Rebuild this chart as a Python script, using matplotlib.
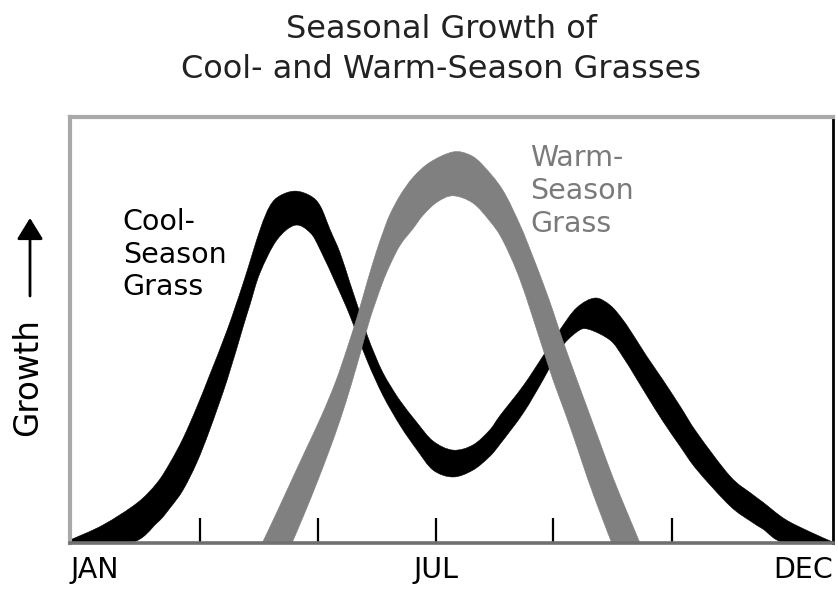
import numpy as np
import matplotlib.pyplot as plt
from matplotlib.path import Path
from matplotlib.patches import PathPatch

# x: position along the year (0 = JAN, 100 = DEC), y: relative growth (0-100)
# each grass is a band between an outer and an inner edge
cool_top_x = [0.0, 4.3, 8.8, 11.4, 13.1, 14.8, 16.6, 18.3, 20.6, 22.7, 24.9, 26.2, 27.5, 29.5,
              31.5, 32.8, 34.1, 35.4, 36.7, 38.0, 38.9, 40.0, 41.0, 42.1, 43.3, 45.5, 47.6,
              50.2, 52.8, 55.0, 56.4, 59.4, 62.0, 64.2, 66.4, 68.8, 70.8, 72.5, 74.0, 75.6,
              77.7, 80.0, 82.2, 86.5, 89.3, 90.8, 93.7, 97.0, 100.0]
cool_top_y = [0.7, 4.2, 9.4, 14.1, 18.8, 24.5, 31.8, 39.4, 50.0, 61.0, 73.5, 79.1, 81.5, 82.6,
              81.5, 79.1, 73.5, 68.1, 61.0, 54.0, 49.0, 44.0, 40.0, 36.6, 33.3, 28.2, 23.9,
              21.8, 23.0, 26.5, 30.0, 36.9, 43.9, 50.0, 55.2, 57.5, 55.8, 52.3, 48.3, 43.8,
              38.3, 32.0, 25.8, 15.7, 11.6, 9.6, 5.6, 2.6, 0.2]
cool_bot_x = [0.0, 7.9, 11.4, 13.1, 14.8, 16.6, 18.3, 20.6, 22.7, 23.6, 24.9, 27.1, 29.5, 31.5,
              32.8, 35.0, 36.7, 38.9, 41.0, 43.3, 45.5, 47.6, 50.2, 52.8, 55.0, 56.4, 59.4,
              62.0, 64.2, 66.4, 67.9, 70.8, 72.5, 74.0, 75.6, 77.7, 80.0, 82.2, 86.5, 89.3,
              90.8, 93.7, 100.0]
cool_bot_y = [0.0, 0.0, 4.7, 8.2, 12.4, 18.8, 26.5, 38.3, 50.8, 56.0, 63.4, 71.1, 74.6, 72.8,
              68.8, 60.3, 53.3, 43.0, 34.7, 27.5, 21.8, 17.1, 15.5, 17.1, 20.3, 23.3, 30.5,
              38.3, 45.5, 49.5, 50.2, 47.6, 43.6, 39.3, 34.6, 28.6, 22.6, 17.1, 8.7, 5.0,
              3.3, 0.0, 0.0]

warm_top_x = [25.2, 27.0, 28.8, 30.9, 33.0, 34.8, 36.3, 37.7, 38.9, 40.1, 41.0, 41.9, 43.3,
              45.0, 47.2, 50.2, 52.4, 54.1, 56.7, 59.0, 60.5, 62.0, 63.3, 64.5, 66.2, 67.9,
              69.5, 71.2, 73.0, 74.7]
warm_top_y = [0.0, 6.8, 13.8, 21.9, 30.0, 37.8, 45.6, 53.5, 61.0, 68.1, 72.8, 77.0, 81.7,
              85.9, 89.4, 91.8, 91.1, 88.7, 82.9, 74.6, 68.0, 61.0, 54.5, 48.0, 39.5, 31.2,
              23.4, 15.2, 7.3, 0.0]
warm_bot_x = [29.1, 30.8, 32.4, 34.0, 35.5, 36.9, 38.2, 39.3, 40.9, 42.0, 43.3, 45.0, 46.3,
              48.1, 50.2, 52.8, 55.0, 56.7, 59.0, 61.9, 63.3, 64.9, 66.4, 67.9, 69.5, 71.0]
warm_bot_y = [0.0, 7.2, 14.3, 21.8, 29.4, 37.4, 45.5, 52.5, 60.8, 65.5, 70.0, 73.9, 77.0,
              80.0, 81.5, 79.8, 75.6, 71.1, 61.7, 46.0, 38.3, 30.5, 22.8, 14.8, 7.0, 0.0]

tick_pos = [17.0, 32.5, 48.0, 63.3, 78.9]
month_pos = [0, 48.0, 100]
month_labels = ["JAN", "JUL", "DEC"]


def smooth_segments(xs, ys):
    # Catmull-Rom through the read points, written as cubic Bezier pieces
    p = np.column_stack([xs, ys])
    ext = np.vstack([p[0], p, p[-1]])
    verts, codes = [], []
    for i in range(1, len(ext) - 2):
        p0, p1, p2, p3 = ext[i - 1], ext[i], ext[i + 1], ext[i + 2]
        verts += [p1 + (p2 - p0) / 6, p2 - (p3 - p1) / 6, p2]
        codes += [Path.CURVE4] * 3
    return p[0], verts, codes


def band(ax, tx, ty, bx, by, color, z):
    start, v1, c1 = smooth_segments(tx, ty)
    bstart, v2, c2 = smooth_segments(bx[::-1], by[::-1])
    verts = [start] + v1 + [bstart] + v2 + [start]
    codes = [Path.MOVETO] + c1 + [Path.LINETO] + c2 + [Path.CLOSEPOLY]
    ax.add_patch(PathPatch(Path(verts, codes), facecolor=color, edgecolor=color,
                           lw=0.4, zorder=z))


plt.rcParams["font.family"] = "DejaVu Sans"

fig = plt.figure(figsize=(8.38, 5.96), dpi=100)
ax = fig.add_axes([70 / 838, 53 / 596, 763 / 838, 426 / 596])

band(ax, cool_top_x, cool_top_y, cool_bot_x, cool_bot_y, "black", 2)
band(ax, warm_top_x, warm_top_y, warm_bot_x, warm_bot_y, "#808080", 3)

ax.text(6.9, 58.2, "Cool-\nSeason\nGrass", fontsize=20.5, color="black",
        ha="left", va="baseline", linespacing=1.2)
ax.text(60.3, 73.0, "Warm-\nSeason\nGrass", fontsize=20.5, color="#7a7a7a",
        ha="left", va="baseline", linespacing=1.22)

ax.set_xlim(0, 100)
ax.set_ylim(0, 100)
ax.set_yticks([])
ax.set_xticks(tick_pos, labels=[""] * len(tick_pos))
ax.tick_params(axis="x", which="major", direction="in", length=18, width=1.6, color="black")

# month names sit below the axis, JAN flush left and DEC flush right
for x, name, ha in zip(month_pos, month_labels, ["left", "center", "right"]):
    ax.annotate(name, xy=(x, 0), xycoords=("data", "axes fraction"),
                xytext=(0, -9.5), textcoords="offset points",
                ha=ha, va="top", fontsize=20.5, annotation_clip=False)

for side, col, w in [("left", "#a9a9a9", 3), ("top", "#a9a9a9", 3),
                     ("bottom", "#707070", 2.6), ("right", "black", 2)]:
    ax.spines[side].set_color(col)
    ax.spines[side].set_linewidth(w)
    ax.spines[side].set_zorder(4)

fig.text(441 / 838, 1 - 49.5 / 596, "Seasonal Growth of\nCool- and Warm-Season Grasses",
         fontsize=23, color="#222222", ha="center", va="center", linespacing=1.38)

fig.text(28 / 838, 1 - 377 / 596, "Growth", fontsize=23.5, rotation=90,
         ha="center", va="center")
ax.annotate("", xy=(30, 596 - 218), xytext=(30, 596 - 296),
            xycoords="figure pixels", textcoords="figure pixels",
            arrowprops=dict(arrowstyle="-|>,head_length=1.3,head_width=0.8",
                            color="black", lw=2, shrinkA=0, shrinkB=0),
            annotation_clip=False)

fig.savefig("out.png", dpi=100)
